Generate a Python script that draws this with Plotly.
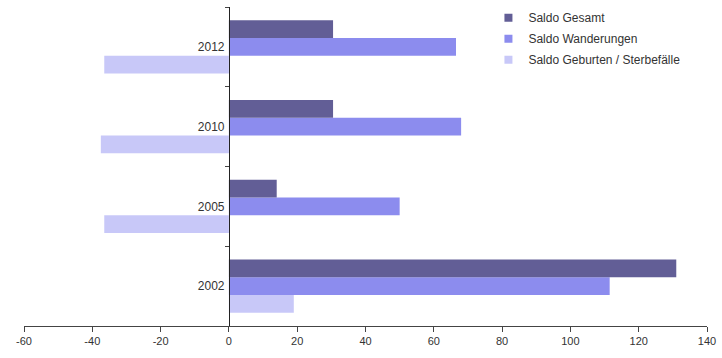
import plotly.graph_objects as go

years = ["2002", "2005", "2010", "2012"]
saldo_gesamt = [131, 14, 30.5, 30.5]
saldo_wanderungen = [111.5, 50, 68, 66.5]
saldo_geburten = [19, -36.5, -37.5, -36.5]
x_ticks = [-60, -40, -20, 0, 20, 40, 60, 80, 100, 120, 140]
x_tick_labels = ["-60", "-40", "-20", "0", "20", "40", "60", "80", "100", "120", "140"]

names = ["Saldo Geburten / Sterbefälle", "Saldo Wanderungen", "Saldo Gesamt"]
series = [saldo_geburten, saldo_wanderungen, saldo_gesamt]
colors = ["#c8c8f8", "#8c8cee", "#625e96"]
ranks = [3, 2, 1]

fig = go.Figure()
for n, v, c in zip(names, series, colors):
    fig.add_trace(go.Bar(y=years, x=v, name=n, orientation="h",
                         marker=dict(color=c, line=dict(width=0)),
                         showlegend=False))
# legend entries with small square swatches
for n, c, r in zip(names, colors, ranks):
    fig.add_trace(go.Scatter(x=[None], y=[None], mode="markers", name=n,
                             marker=dict(symbol="square", size=8, color=c),
                             legendrank=r, legendgroup=n))

fig.update_layout(
    width=722, height=358,
    margin=dict(l=24, r=15, t=7, b=32, autoexpand=False),
    paper_bgcolor="white", plot_bgcolor="white",
    barmode="group", bargap=0.33, bargroupgap=0,
    font=dict(family="Arial, Liberation Sans, sans-serif", size=11, color="#333333"),
    legend=dict(x=0.68, y=1.012, xanchor="left", yanchor="top",
                traceorder="grouped", tracegroupgap=2,
                font=dict(size=12, color="#333333"), bgcolor="rgba(255,255,255,0)",
                itemwidth=30),
    xaxis=dict(range=[-60, 140], tickvals=x_ticks, ticktext=x_tick_labels,
               showgrid=False, zeroline=False,
               showline=True, linecolor="#444444", linewidth=1,
               ticks="outside", ticklen=5, tickcolor="#444444",
               domain=[0, 1]),
    yaxis=dict(type="category", categoryorder="array", categoryarray=years,
               anchor="free", position=0.3, showgrid=False, zeroline=False,
               showline=True, linecolor="#222222", linewidth=1,
               ticks="outside", ticklen=4, tickcolor="#444444", tickson="boundaries",
               ticklabelstandoff=2, tickfont=dict(size=12, color="#333333")),
)

fig.write_html("out.html")
